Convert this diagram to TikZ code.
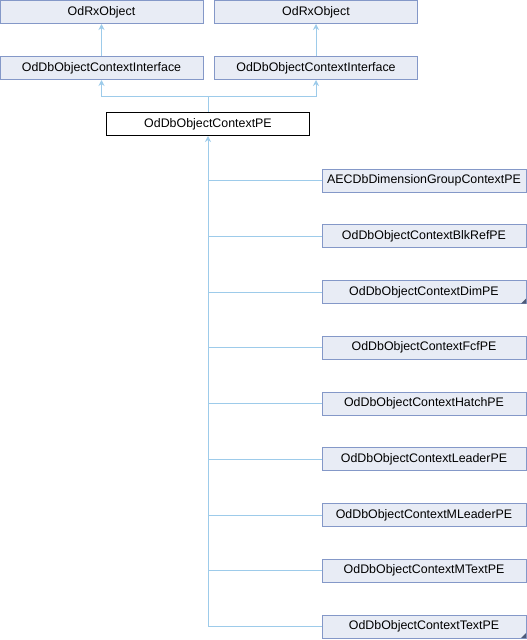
\documentclass[tikz,border=0pt]{standalone}
\usepackage{fontspec}
\setmainfont{Liberation Sans}
\usetikzlibrary{arrows.meta}
\definecolor{boxfill}{HTML}{E8ECF5}
\definecolor{boxline}{HTML}{8498C8}
\definecolor{edgecol}{HTML}{9DCBEA}
\begin{document}
\begin{tikzpicture}[x=1pt,y=-1pt,
  cls/.style={draw=boxline,fill=boxfill,line width=1pt,minimum width=203pt,minimum height=23pt,inner sep=0pt,font=\fontsize{12.4pt}{14pt}\selectfont,anchor=center},
  mainbox/.style={cls,draw=black,fill=white},
  edge/.style={draw=edgecol,line width=1pt},
  inh/.style={edge,{Stealth[length=6pt,width=6pt]}-}]
\useasboundingbox (0,0) rectangle (527,640);
\node[cls] (r1) at (101.5,12) {OdRxObject};
\node[cls] (r2) at (316,12) {OdRxObject};
\node[cls] (i1) at (101.5,68) {OdDbObjectContextInterface};
\node[cls] (i2) at (316,68) {OdDbObjectContextInterface};
\node[mainbox] (pe) at (208,124) {OdDbObjectContextPE};
\draw[inh] (r1.south) -- (i1.north);
\draw[inh] (r2.south) -- (i2.north);
\coordinate (j) at (208,96);
\draw[inh] (i1.south) |- (j);
\draw[inh] (i2.south) |- (j);
\draw[edge] (j) -- (pe.north);
\foreach \n/\t [count=\k from 0] in {c1/AECDbDimensionGroupContextPE,c2/OdDbObjectContextBlkRefPE,c3/OdDbObjectContextDimPE,c4/OdDbObjectContextFcfPE,c5/OdDbObjectContextHatchPE,c6/OdDbObjectContextLeaderPE,c7/OdDbObjectContextMLeaderPE,c8/OdDbObjectContextMTextPE,c9/OdDbObjectContextTextPE}{
  \node[cls,minimum width=204pt] (\n) at (424,180.5+55.75*\k) {\t};
  \draw[edge] (\n.west) -- (208,180.5+55.75*\k);
}
\draw[inh] (pe.south) -- (208,626.5);
\foreach \n in {c3,c9}{
  \fill[boxline!60!black] ([shift={(-0.5,-0.5)}]\n.south east) -- ++(-5,0) -- ++(5,-5) -- cycle;
}
\end{tikzpicture}
\end{document}
